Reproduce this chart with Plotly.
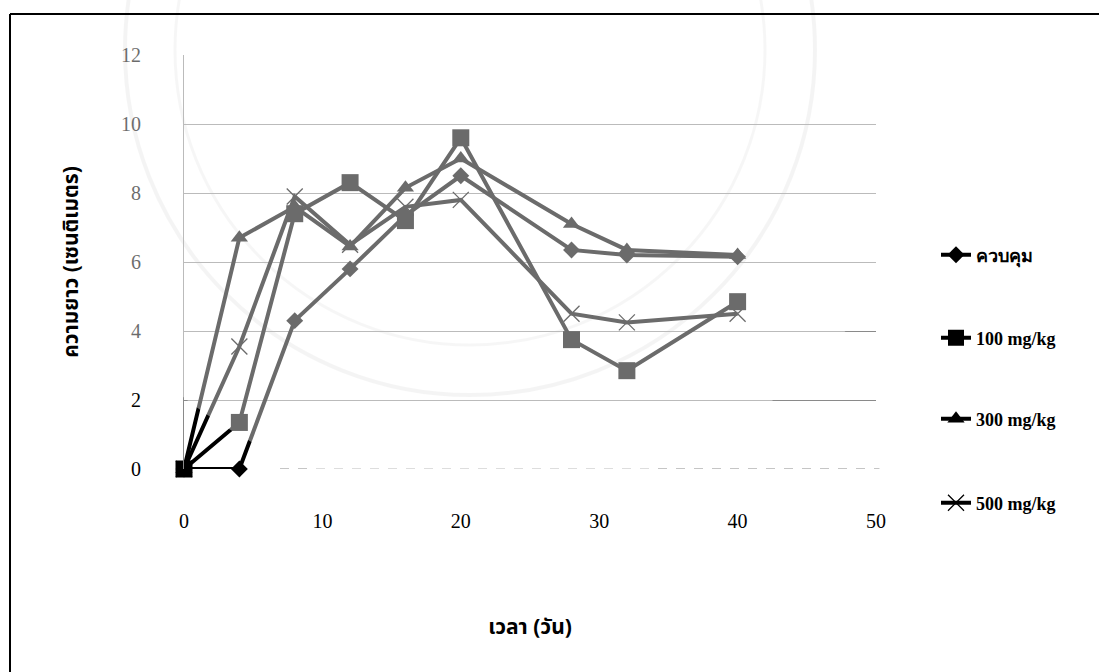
import plotly.graph_objects as go

# Sampling days and measured length (cm) for each treatment
days = [0, 4, 8, 12, 16, 20, 28, 32, 40]
control = [0, 0, 4.3, 5.8, 7.35, 8.5, 6.35, 6.2, 6.15]
dose_100 = [0, 1.35, 7.4, 8.3, 7.2, 9.6, 3.75, 2.85, 4.85]
dose_300 = [0, 6.7, 7.6, 6.45, 8.15, 9.0, 7.1, 6.35, 6.2]
dose_500 = [0, 3.55, 7.9, 6.5, 7.6, 7.8, 4.5, 4.25, 4.5]

series_names = ["ควบคุม", "100 mg/kg", "300 mg/kg", "500 mg/kg"]
x_ticks = [0, 10, 20, 30, 40, 50]
y_ticks = [0, 2, 4, 6, 8, 10, 12]

W, H = 1099, 672
L, R, T, B = 184, 876, 55, 469  # plot area in pixels


def px(xp):
    return (xp - L) / (R - L)


def py(yp):
    return (B - yp) / (B - T)


THAI = "Noto Sans Thai, Loma, Garuda, DejaVu Sans, sans-serif"
SERIF = "Liberation Serif, Times New Roman, serif"

styles = [
    dict(symbol="diamond", size=13, line=dict(width=0)),
    dict(symbol="square", size=17, line=dict(width=0)),
    dict(symbol="triangle-up", size=15, line=dict(width=0)),
    dict(symbol="x-thin-open", size=16, line=dict(width=1.3, color="black")),
]

fig = go.Figure()
legend_rows = [255, 338, 419, 503]
legend_keys = [f"legend{i + 2}" for i in range(4)]
for i, (name, vals) in enumerate(zip(series_names, [control, dose_100, dose_300, dose_500])):
    fig.add_trace(go.Scatter(
        x=days, y=vals, name=name, mode="lines+markers",
        line=dict(color="black", width=4),
        marker=dict(color="black", **styles[i]),
        cliponaxis=False, legend=legend_keys[i], showlegend=True,
    ))

legend_common = dict(
    xanchor="left", yanchor="middle", x=px(936),
    bgcolor="rgba(0,0,0,0)", borderwidth=0,
    font=dict(family=SERIF, size=18, color="black", weight="bold"),
    itemwidth=30,
)
legends = {key: dict(legend_common, y=py(row)) for key, row in zip(legend_keys, legend_rows)}

shapes = [
    # baseline gridline at the bottom of the value range
    dict(type="line", xref="paper", yref="y",
         x0=px(280), x1=1.005, y0=y_ticks[0], y1=y_ticks[0],
         line=dict(color="#8a8a8a", width=1, dash="dash"), layer="below"),
    # faded seal behind the curves
    dict(type="circle", xref="paper", yref="paper",
         x0=px(0), x1=px(960), y0=py(500), y1=py(-460),
         fillcolor="white", opacity=0.42, line=dict(width=0), layer="above"),
    dict(type="circle", xref="paper", yref="paper",
         x0=px(125), x1=px(815), y0=py(395), y1=py(-295),
         fillcolor="rgba(0,0,0,0)", line=dict(color="rgba(0,0,0,0.07)", width=4), layer="below"),
    dict(type="circle", xref="paper", yref="paper",
         x0=px(175), x1=px(765), y0=py(345), y1=py(-245),
         fillcolor="rgba(0,0,0,0)", line=dict(color="rgba(0,0,0,0.06)", width=3), layer="below"),
    # outer frame (top and left edges)
    dict(type="line", xref="paper", yref="paper",
         x0=px(10), x1=px(1120), y0=py(14), y1=py(14),
         line=dict(color="black", width=2)),
    dict(type="line", xref="paper", yref="paper",
         x0=px(10), x1=px(10), y0=py(14), y1=py(700),
         line=dict(color="black", width=2)),
]

fig.update_layout(
    width=W, height=H,
    margin=dict(l=L, r=W - R, t=T, b=H - B),
    paper_bgcolor="white", plot_bgcolor="white",
    font=dict(family=SERIF, color="black"),
    showlegend=True,
    xaxis=dict(
        range=[0, 50], tickvals=x_ticks, ticktext=[str(v) for v in x_ticks],
        showgrid=False, zeroline=False, showline=False, ticks="",
        ticklabelstandoff=38,
        tickfont=dict(family=SERIF, size=20, color="black"),
        title=dict(text="<b>เวลา (วัน)</b>", font=dict(family=THAI, size=21, color="black"), standoff=88),
    ),
    yaxis=dict(
        range=[0, 12], tickvals=y_ticks, ticktext=[str(v) for v in y_ticks],
        showgrid=True, gridcolor="#8a8a8a", gridwidth=1,
        zeroline=False, showline=True, linecolor="#8a8a8a", linewidth=1, ticks="",
        ticklabelstandoff=38,
        tickfont=dict(family=SERIF, size=20, color="black"),
        title=dict(text="<b>ความยาว (เซนติเมตร)</b>", font=dict(family=THAI, size=21, color="black"), standoff=36),
    ),
    shapes=shapes,
    **legends,
)

fig.write_html("out.html")
